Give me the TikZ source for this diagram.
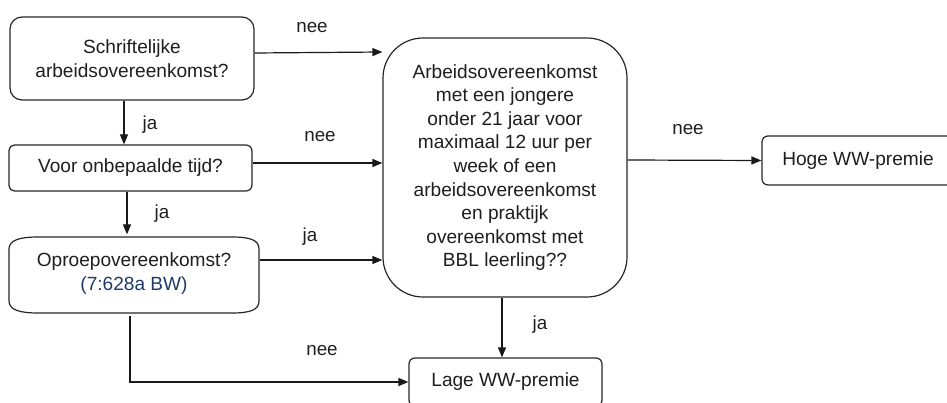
\documentclass[tikz,border=0pt]{standalone}
\usepackage{fontspec}
\setmainfont{Liberation Sans}
\usetikzlibrary{arrows.meta,calc}
\definecolor{txt}{HTML}{1E1E1E}
\definecolor{lnk}{HTML}{1F3A68}
\tikzset{
  box/.style={draw=black!85, line width=1.2pt, align=center, inner sep=2pt, text=txt,
    font=\fontsize{19.1}{23.6}\selectfont},
  lbl/.style={text=txt, font=\fontsize{18.8}{22}\selectfont, inner sep=0pt},
  arr/.style={draw=black!90, line width=1.2pt, -{Triangle[length=10pt,width=8pt]}},
}
\begin{document}
\begin{tikzpicture}[x=1pt,y=-1pt]
\useasboundingbox (0,0) rectangle (947,403);
% nodes
\node[box, rounded corners=12pt, minimum width=244pt, minimum height=83pt] (schr) at (132,58.5)
  {Schriftelijke\\arbeidsovereenkomst?};
\node[box, rounded corners=6pt, minimum width=243pt, minimum height=46pt] (voor) at (130.5,168)
  {Voor onbepaalde tijd?};
\node[box, draw=none, minimum width=250pt, minimum height=77pt] (oproep) at (134,273.5)
  {Oproepovereenkomst?\\\textcolor{lnk}{(7:628a BW)}};
\draw[black!85, line width=1.2pt]
  (9,249) .. controls (9,240) and (20,237) .. (38,237) -- (232,237)
  .. controls (250,237) and (259,240) .. (259,249) -- (259,301)
  .. controls (259,310) and (250,313) .. (232,313) -- (38,313)
  .. controls (20,313) and (9,310) .. (9,301) -- cycle;
\node[box, rounded corners=40pt, minimum width=244pt, minimum height=259pt] (big) at (505,167.5)
  {Arbeidsovereenkomst\\met een jongere\\onder 21 jaar voor\\maximaal 12 uur per\\week of een\\arbeidsovereenkomst\\en praktijk\\overeenkomst met\\BBL leerling??};
\node[box, rounded corners=6pt, minimum width=192pt, minimum height=49pt] (hoge) at (858,160.5)
  {Hoge WW-premie};
\node[box, rounded corners=6pt, minimum width=193pt, minimum height=48pt] (lage) at (505.5,382)
  {Lage WW-premie};
% connectors
\draw[arr] (schr.east |- 0,53) -- (big.west |- 0,52);
\draw[arr] (schr.south -| 124,0) -- (voor.north -| 124,0);
\draw[arr] (voor.east |- 0,163) -- (big.west |- 0,163);
\draw[arr] (voor.south -| 127,0) -- (oproep.north -| 127,0);
\draw[arr] (oproep.east |- 0,260) -- (big.west |- 0,260);
\coordinate (obot) at (130,316);
\draw[arr] (obot) |- (lage.west);
\draw[arr] (big.east |- 0,160) -- (hoge.west);
\draw[arr] (big.south -| 502,0) -- (lage.north -| 502,0);
% labels
\node[lbl] (l1) at (312,28) {nee};
\node[lbl] (l2) at (150,125) {ja};
\node[lbl] (l3) at (320,137) {nee};
\node[lbl] (l4) at (162,214) {ja};
\node[lbl] (l5) at (310,237) {ja};
\node[lbl] (l6) at (322,351) {nee};
\node[lbl] (l7) at (688,130) {nee};
\node[lbl] (l8) at (540,325) {ja};
\end{tikzpicture}
\end{document}
